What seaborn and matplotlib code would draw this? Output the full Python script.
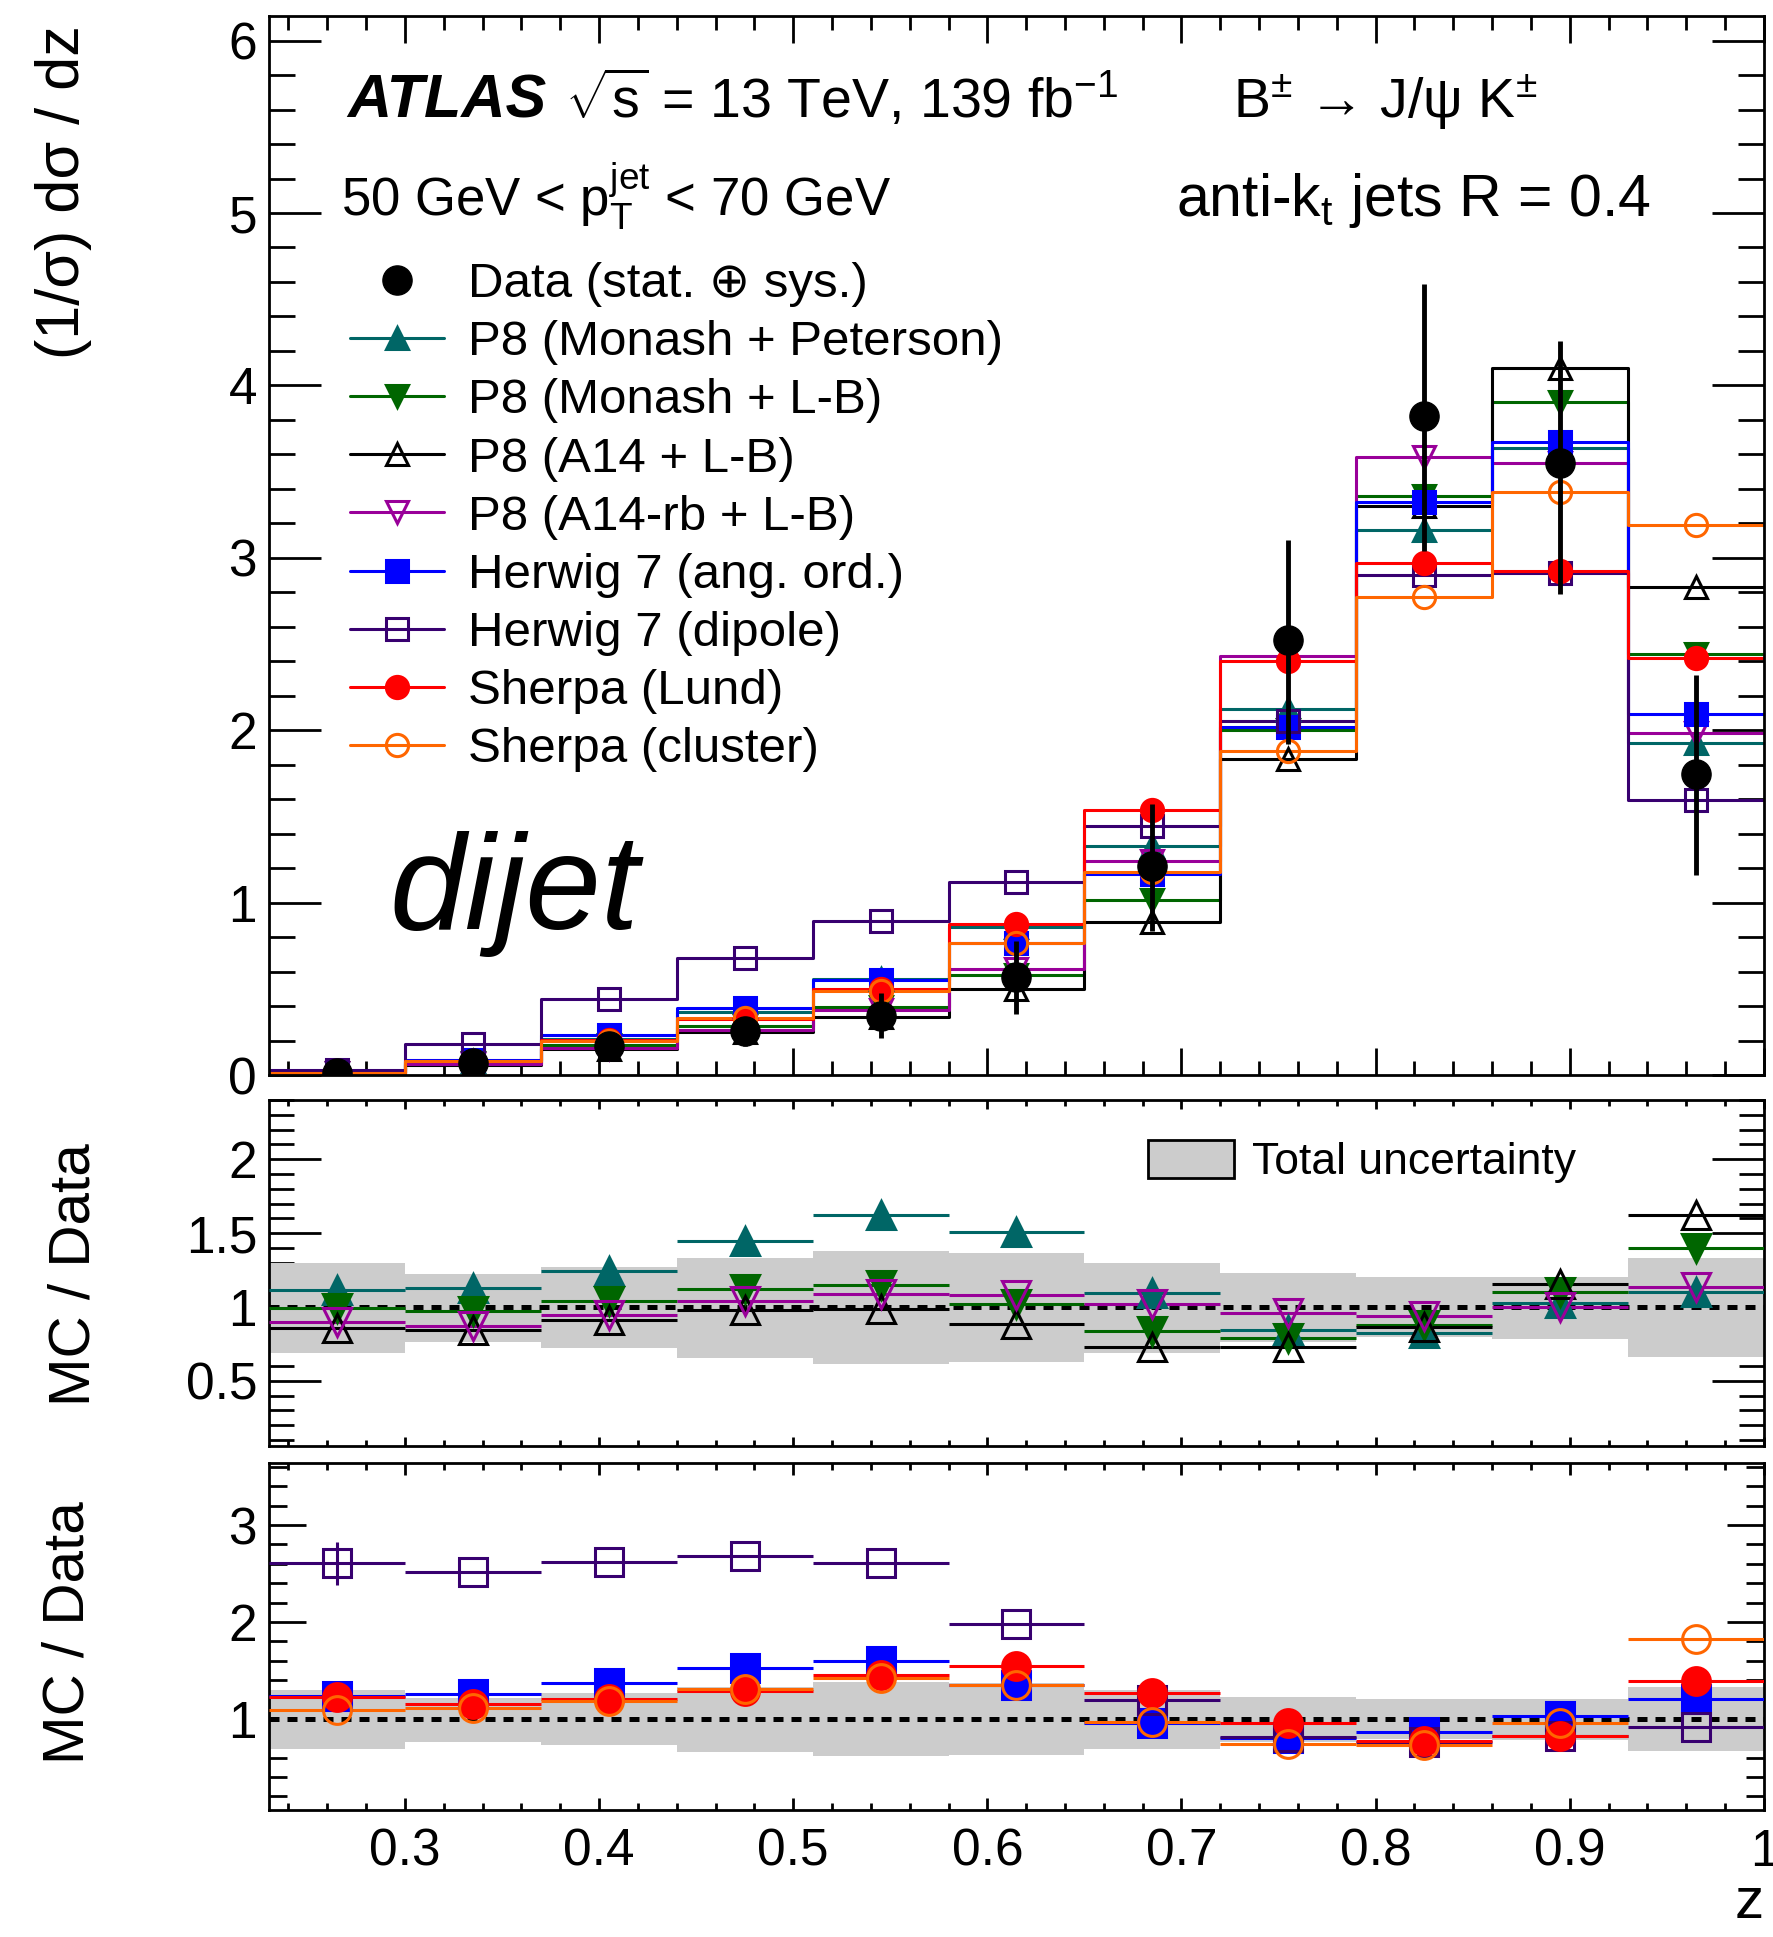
import numpy as np
import matplotlib
matplotlib.use("Agg")
import matplotlib.pyplot as plt
import seaborn as sns
from matplotlib.lines import Line2D
from matplotlib.patches import Patch
from matplotlib.ticker import MultipleLocator, FuncFormatter

# z binning
edges = [0.23, 0.30, 0.37, 0.44, 0.51, 0.58, 0.65, 0.72, 0.79, 0.86, 0.93, 1.00]
centers = [0.265, 0.335, 0.405, 0.475, 0.545, 0.615, 0.685, 0.755, 0.825, 0.895, 0.965]

# unfolded data, (1/sigma) dsigma/dz
data = [0.0105, 0.071, 0.169, 0.253, 0.344, 0.568, 1.213, 2.524, 3.824, 3.55, 1.746]
# relative total uncertainty (up / down)
unc_up = [0.297, 0.22, 0.27, 0.33, 0.376, 0.365, 0.297, 0.23, 0.20, 0.20, 0.33]
unc_dn = [0.31, 0.24, 0.275, 0.345, 0.383, 0.372, 0.31, 0.24, 0.205, 0.214, 0.335]

# MC / Data
r_peterson = [1.117, 1.126, 1.243, 1.446, 1.62, 1.51, 1.097, 0.842, 0.827, 1.025, 1.104]
r_monash_lb = [0.993, 0.973, 1.038, 1.12, 1.146, 1.022, 0.838, 0.793, 0.878, 1.10, 1.40]
r_a14 = [0.86, 0.847, 0.91, 0.977, 0.986, 0.883, 0.732, 0.727, 0.863, 1.155, 1.62]
r_a14rb = [0.896, 0.874, 0.944, 1.038, 1.09, 1.081, 1.022, 0.962, 0.937, 1.0, 1.135]
r_hw_ang = [1.234, 1.258, 1.375, 1.527, 1.60, 1.351, 0.959, 0.80, 0.869, 1.034, 1.20]
r_hw_dip = [2.604, 2.518, 2.618, 2.683, 2.604, 1.974, 1.193, 0.814, 0.759, 0.82, 0.914]
r_sh_lund = [1.224, 1.155, 1.20, 1.286, 1.454, 1.544, 1.268, 0.952, 0.776, 0.824, 1.386]
r_sh_clus = [1.096, 1.107, 1.179, 1.313, 1.42, 1.348, 0.972, 0.745, 0.725, 0.952, 1.826]
r_hw_dip_err = [0.22, 0, 0, 0, 0, 0, 0, 0, 0, 0, 0]

labels = ["P8 (Monash + Peterson)", "P8 (Monash + L-B)", "P8 (A14 + L-B)",
          "P8 (A14-rb + L-B)", "Herwig 7 (ang. ord.)", "Herwig 7 (dipole)",
          "Sherpa (Lund)", "Sherpa (cluster)"]
ratios = [r_peterson, r_monash_lb, r_a14, r_a14rb, r_hw_ang, r_hw_dip, r_sh_lund, r_sh_clus]

# styles
colors = ["#006666", "#006600", "#000000", "#990099", "#0000ff", "#380070", "#ff0000", "#ff6600"]
markers = ["^", "v", "^", "v", "s", "s", "o", "o"]
filled = [True, True, False, False, True, False, True, False]

sns.set_theme(style="ticks")
plt.rcParams["font.family"] = ["Liberation Sans", "DejaVu Sans"]
plt.rcParams["mathtext.fontset"] = "custom"
plt.rcParams["mathtext.rm"] = "Liberation Sans"
plt.rcParams["mathtext.it"] = "Liberation Sans:italic"
plt.rcParams["mathtext.bf"] = "Liberation Sans:bold"
plt.rcParams["mathtext.default"] = "regular"
for k in ["text.color", "axes.labelcolor", "xtick.color", "ytick.color", "axes.edgecolor"]:
    plt.rcParams[k] = "black"
plt.rcParams["axes.linewidth"] = 2.0

fig = plt.figure(figsize=(17.73, 19.37), dpi=100)
ax1 = fig.add_axes([0.1517, 0.4450, 0.8432, 0.5465])
ax2 = fig.add_axes([0.1517, 0.2535, 0.8432, 0.1786])
ax3 = fig.add_axes([0.1517, 0.0656, 0.8432, 0.1791])

data_arr = np.array(data)

# main panel: MC histograms
for i in range(8):
    mc = data_arr * np.array(ratios[i])
    sns.histplot(x=centers, weights=mc, bins=edges, element="step", fill=False,
                 color=colors[i], linewidth=2.2, ax=ax1, zorder=2)
for i in range(8):
    mc = data_arr * np.array(ratios[i])
    ax1.plot(centers, mc, ls="none", marker=markers[i], ms=16,
             mfc=colors[i] if filled[i] else "none", mec=colors[i], mew=2.2, zorder=4)
ax1.errorbar(centers, data, yerr=[data_arr * np.array(unc_dn), data_arr * np.array(unc_up)],
             fmt="o", color="black", ms=21, elinewidth=3.5, capsize=0, zorder=6)
ax1.set_xlabel("")
ax1.set_ylabel("")

handles = [Line2D([], [], ls="none", marker="o", ms=21, color="black")]
for i in range(8):
    handles.append(Line2D([], [], color=colors[i], lw=2.2, marker=markers[i], ms=16,
                          mfc=colors[i] if filled[i] else "none", mec=colors[i], mew=2.2))
ax1.legend(handles, ["Data (stat. ⊕ sys.)"] + labels, loc="upper left",
           bbox_to_anchor=(0.0542, 0.768), frameon=False, fontsize=35.5,
           handlelength=1.9, handletextpad=0.5, labelspacing=0.267,
           borderpad=0, borderaxespad=0)

ax1.text(0.0522, 0.9041, "ATLAS", fontsize=44, fontweight="bold", fontstyle="italic",
         transform=ax1.transAxes, va="baseline")
ax1.text(0.198, 0.9041, r"$\sqrt{s}$ = 13 TeV, 139 fb$^{-1}$", fontsize=40,
         transform=ax1.transAxes, va="baseline")
ax1.text(0.645, 0.9041, r"B$^{\pm}$ → J/ψ K$^{\pm}$", fontsize=40,
         transform=ax1.transAxes, va="baseline")
ax1.text(0.048, 0.8115, r"50 GeV < p$_{T}^{jet}$ < 70 GeV", fontsize=38,
         transform=ax1.transAxes, va="baseline")
ax1.text(0.6067, 0.8115, r"anti-k$_{t}$ jets R = 0.4", fontsize=42.5,
         transform=ax1.transAxes, va="baseline")
ax1.text(0.0803, 0.1379, "dijet", fontsize=98, fontstyle="italic",
         transform=ax1.transAxes, va="baseline")

# ratio panels
groups = [(ax2, [0, 1, 2, 3]), (ax3, [4, 5, 6, 7])]
up = np.array(unc_up)
dn = np.array(unc_dn)
for ax, idx in groups:
    ax.bar(centers, up + dn, bottom=1 - dn, width=0.07, color="#cccccc", linewidth=0, zorder=1)
    ax.axhline(1, color="black", lw=3.6, ls=(0, (2, 1.6)), zorder=2.5)
    for i in idx:
        yerr = r_hw_dip_err if i == 5 else None
        ax.errorbar(centers, ratios[i], xerr=0.035, yerr=yerr, fmt=markers[i], ms=20,
                    color=colors[i], mfc=colors[i] if filled[i] else "none",
                    mec=colors[i], mew=2.2, elinewidth=2.2, capsize=0, zorder=3)

ax2.legend([Patch(facecolor="#cccccc", edgecolor="black", linewidth=2)], ["Total uncertainty"],
           loc="center left", bbox_to_anchor=(0.588, 0.822), frameon=False, fontsize=32,
           handlelength=1.94, handleheight=0.92, handletextpad=0.4,
           borderpad=0, borderaxespad=0)

fmt = FuncFormatter(lambda v, p: f"{v:g}")
for ax in (ax1, ax2, ax3):
    ax.set_xlim(0.23, 1.0)
    ax.xaxis.set_major_locator(MultipleLocator(0.1))
    ax.xaxis.set_minor_locator(MultipleLocator(0.02))
    ax.xaxis.set_major_formatter(fmt)
    ax.yaxis.set_major_formatter(fmt)
    ax.tick_params(which="both", direction="in", top=True, right=True, width=2,
                   labelsize=37)
    ax.tick_params(axis="y", pad=8.6)
    for s in ax.spines.values():
        s.set_linewidth(2.0)
        s.set_visible(True)

ax1.set_ylim(0, 6.14)
ax1.yaxis.set_major_locator(MultipleLocator(1))
ax1.yaxis.set_minor_locator(MultipleLocator(0.2))
ax1.tick_params(axis="x", which="major", length=19.4)
ax1.tick_params(axis="x", which="minor", length=10)
ax1.tick_params(axis="y", which="major", length=37.4)
ax1.tick_params(axis="y", which="minor", length=18.7)
ax1.tick_params(labelbottom=False)

ax2.set_ylim(0.06, 2.4)
ax2.yaxis.set_major_locator(MultipleLocator(0.5))
ax2.yaxis.set_minor_locator(MultipleLocator(0.1))
ax2.tick_params(axis="x", which="major", length=6.8)
ax2.tick_params(axis="x", which="minor", length=4.3)
ax2.tick_params(axis="y", which="major", length=37.4)
ax2.tick_params(axis="y", which="minor", length=18)
ax2.tick_params(labelbottom=False)

ax3.set_ylim(0.06, 3.64)
ax3.yaxis.set_major_locator(MultipleLocator(1))
ax3.yaxis.set_minor_locator(MultipleLocator(0.2))
ax3.tick_params(axis="x", which="major", length=8.6, pad=13)
ax3.tick_params(axis="x", which="minor", length=5)
ax3.tick_params(axis="y", which="major", length=26.6)
ax3.tick_params(axis="y", which="minor", length=13)

fig.text(64 / 1773, 1 - 25 / 1937, "(1/σ) dσ / dz", rotation=90, ha="center", va="top", fontsize=44)
fig.text(74 / 1773, 1 - 1143 / 1937, "MC / Data", rotation=90, ha="center", va="top", fontsize=42)
fig.text(68 / 1773, 1 - 1501 / 1937, "MC / Data", rotation=90, ha="center", va="top", fontsize=42)
fig.text(1764 / 1773, 1 - 1930 / 1937, "z", ha="right", va="bottom", fontsize=42)

fig.savefig("out.png", dpi=100)
